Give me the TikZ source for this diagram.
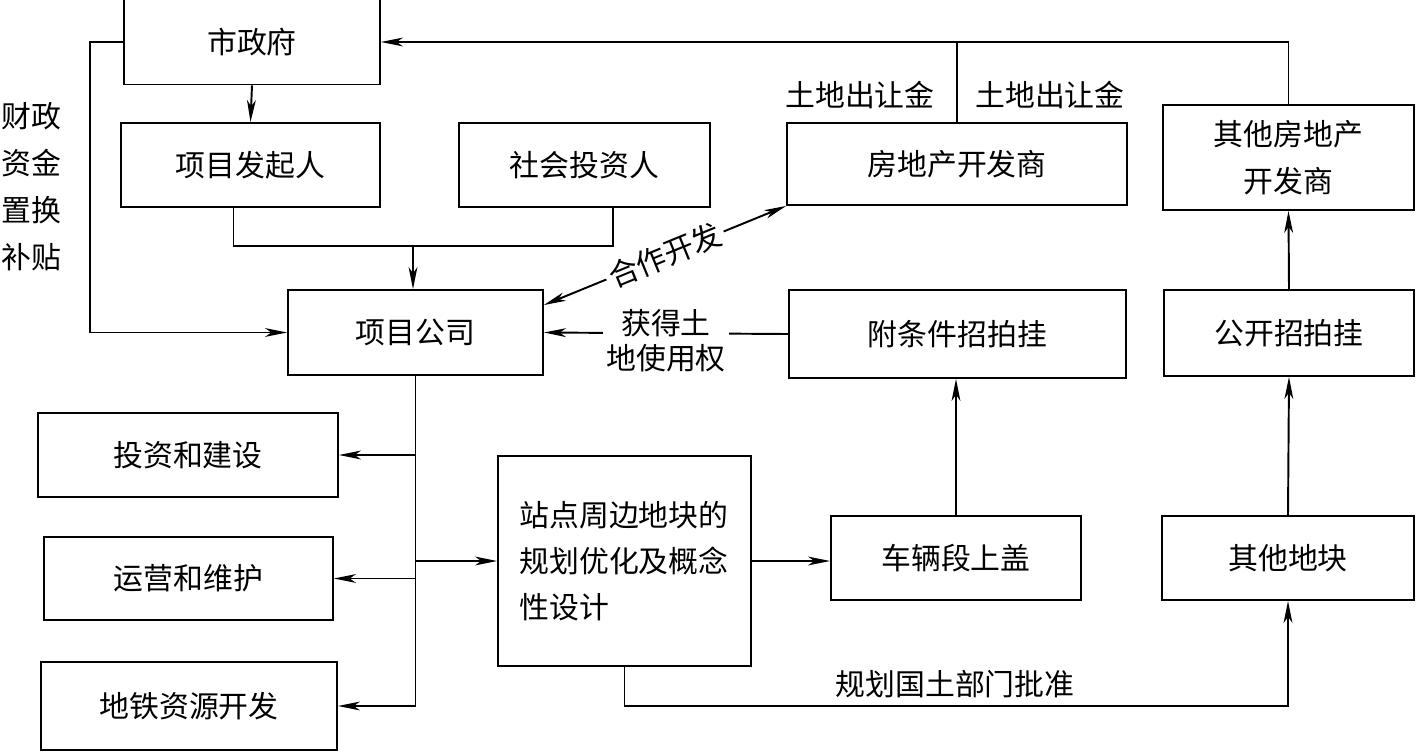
\documentclass[tikz,border=0pt]{standalone}
\usepackage{fontspec}
\setmainfont{Noto Sans CJK SC}
\usetikzlibrary{positioning,arrows.meta}

\begin{document}
\begin{tikzpicture}[
    x=0.02cm, y=-0.02cm,
    font=\fontsize{17}{26}\selectfont,
    >={Stealth[length=12.5pt,width=5pt,inset=3.5pt]},
    line width=1.1pt,
    box/.style={
        draw,
        align=center,
        inner sep=0pt
    },
    arrow/.style={->},
    lbl/.style={fill=white, inner sep=2pt, align=center}
]
\useasboundingbox (0,0) rectangle (1417,751);

\node[box, minimum width=5.12cm, minimum height=1.70cm] (gov) at (252,42) {市政府};
\node[box, minimum width=5.18cm, minimum height=1.68cm] (sponsor) at (250.5,165) {项目发起人};
\node[box, minimum width=5.02cm, minimum height=1.68cm] (investor) at (584.5,165) {社会投资人};
\node[box, minimum width=6.80cm, minimum height=1.64cm] (developer) at (957,164) {房地产开发商};
\node[box, minimum width=5.02cm, minimum height=2.10cm, font=\fontsize{17}{27}\selectfont] (otherdev) at (1288.5,157.5) {其他房地产\\开发商};
\node[box, minimum width=5.10cm, minimum height=1.70cm] (company) at (415.5,332.5) {项目公司};
\node[box, minimum width=6.74cm, minimum height=1.76cm] (cond) at (957.5,334) {附条件招拍挂};
\node[box, minimum width=5.00cm, minimum height=1.72cm] (openbid) at (1289,333) {公开招拍挂};
\node[box, minimum width=6.00cm, minimum height=1.68cm] (invest) at (188,455) {投资和建设};
\node[box, minimum width=5.78cm, minimum height=1.66cm] (operate) at (188.5,578.5) {运营和维护};
\node[box, minimum width=5.92cm, minimum height=1.76cm] (resource) at (189,706) {地铁资源开发};
\node[box, minimum width=5.06cm, minimum height=4.20cm, align=left, text width=4.2cm] (planning) at (624.5,561) {站点周边地块的\\规划优化及概念\\性设计};
\node[box, minimum width=5.00cm, minimum height=1.68cm] (depot) at (956,558) {车辆段上盖};
\node[box, minimum width=5.04cm, minimum height=1.68cm] (otherland) at (1288,558) {其他地块};

% labels
\node[align=center, font=\fontsize{17}{26.7}\selectfont] (subsidy) at (31,187) {财政\\资金\\置换\\补贴};
\node (fee1) at (860,95) {土地出让金};
\node (fee2) at (1050,95) {土地出让金};
\node (approve) at (955,684) {规划国土部门批准};

\coordinate (lft) at (90,0);
\coordinate (join) at (413,246);
\coordinate (bot) at (0,706);

% government links
\draw[arrow] (otherdev.north) |- (gov.east);
\draw (developer.north) -- (developer.north |- gov.east);
\draw[arrow] (gov.south) -- (sponsor.north);
\draw[arrow] (gov.west) -- (gov.west -| lft) |- (company.west);

% sponsors to company
\draw ([xshift=-0.34cm]sponsor.south) |- (join) -| ([xshift=0.57cm]investor.south);
\draw[arrow] (join) -- (join |- company.north);

\draw[<->] ([yshift=0.55cm]company.east) -- (developer.south west)
    node[lbl, midway, sloped] {合作开发};
\draw[arrow] (cond.west) -- (company.east -| company.east)
    node[lbl, midway, yshift=-0.15cm, font=\fontsize{17}{20}\selectfont] {获得土\\地使用权};

% company outputs
\draw (company.south) -- (company.south |- resource.east);
\draw[arrow] (company.south |- invest.east) -- (invest.east);
\draw[arrow] (company.south |- operate.east) -- (operate.east);
\draw[arrow] (company.south |- resource.east) -- (resource.east);
\draw[arrow] (company.south |- planning.west) -- (planning.west);

% land development
\draw[arrow] (planning.east) -- (planning.east -| depot.west);
\draw[arrow] (depot.north) -- (depot.north |- cond.south);
\draw[arrow] (planning.south) -- (planning.south |- bot) -| (otherland.south);
\draw[arrow] (otherland.north) -- (openbid.south);
\draw[arrow] (openbid.north) -- (otherdev.south);
\end{tikzpicture}
\end{document}
